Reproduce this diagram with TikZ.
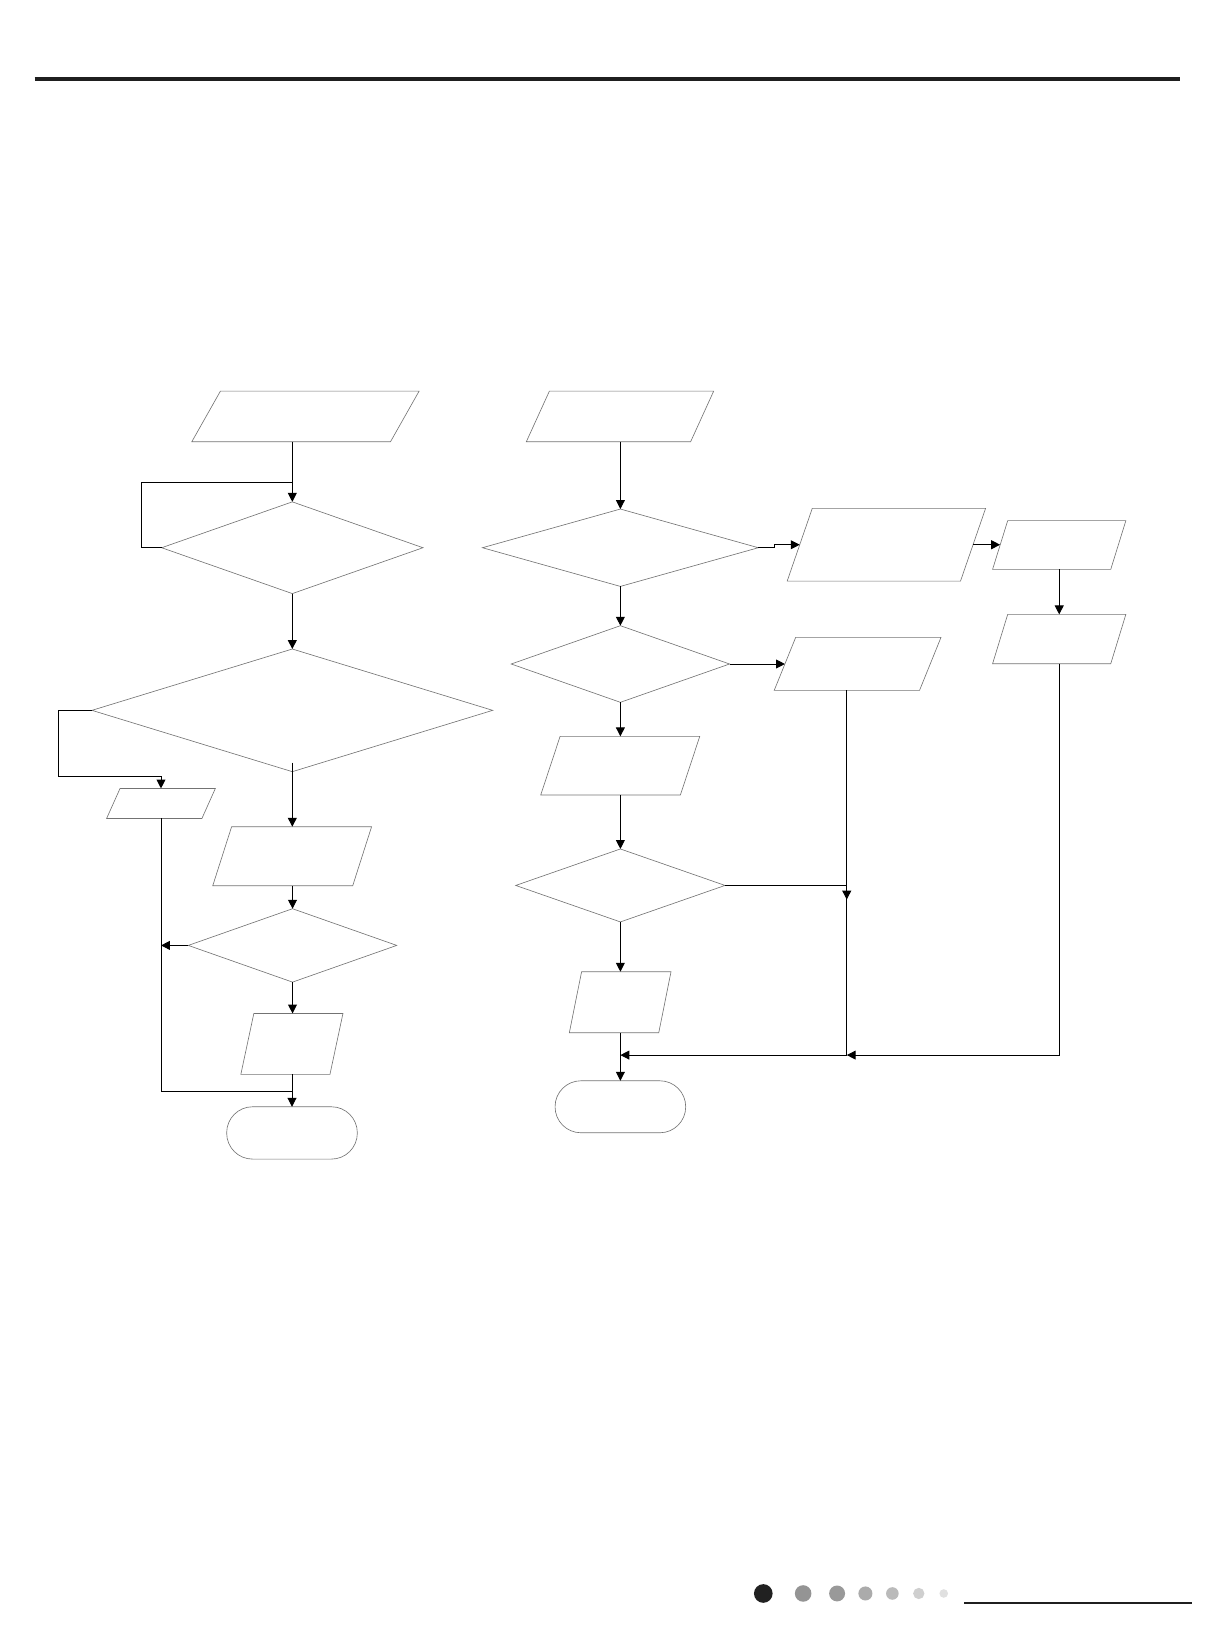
\documentclass[tikz,border=0pt]{standalone}
\usetikzlibrary{shapes.geometric,arrows.meta}
% \parabox{name}{cx}{cy}{edge length}{height}{half slant}
\newcommand\parabox[6]{%
  \node[pbox, minimum width=#4pt, minimum height=#5pt] (#1) at (#2,#3) {};
  \draw[shp] ([xshift=#6pt]#1.north west) -- ([xshift=#6pt]#1.north east)
    -- ([xshift=-#6pt]#1.south east) -- ([xshift=-#6pt]#1.south west) -- cycle;}
\begin{document}
\begin{tikzpicture}[x=1pt,y=-1pt,
  shp/.style={draw=black!55, line width=0.6pt},
  dec/.style={diamond, shp, inner sep=0pt, outer sep=0pt},
  pbox/.style={rectangle, inner sep=0pt, outer sep=0pt, draw=none},
  term/.style={rectangle, shp, rounded corners=24.7pt, inner sep=0pt, outer sep=0pt},
  conn/.style={draw=black, line width=0.9pt},
  arr/.style={conn, -{Triangle[length=8.5pt,width=8.5pt]}},
  dot/.style={circle, inner sep=0pt, outer sep=0pt, draw=none}]
\useasboundingbox (0,0) rectangle (1157,1568);

% header and footer rules
\coordinate (hl) at (33,75);
\coordinate (hr) at (1125,75);
\draw[line width=3.6pt, black!88] (hl) -- (hr);
\coordinate (fl) at (919.5,1528.7);
\coordinate (fr) at (1136.7,1528.7);
\draw[line width=2pt, black!88] (fl) -- (fr);

% footer dots
\node[dot, fill=black!87, minimum size=17.8pt] (d1) at (728,1519.8) {};
\node[dot, fill=black!42, minimum size=15.8pt] (d2) at (766,1519.8) {};
\node[dot, fill=black!40, minimum size=15.2pt] (d3) at (798.4,1519.8) {};
\node[dot, fill=black!33, minimum size=13.4pt] (d4) at (825.4,1519.8) {};
\node[dot, fill=black!27, minimum size=12pt] (d5) at (851.1,1519.8) {};
\node[dot, fill=black!19, minimum size=10.8pt] (d6) at (876.3,1519.8) {};
\node[dot, fill=black!12, minimum size=8.2pt] (d7) at (900.1,1519.8) {};

% ---------- left column ----------
\parabox{P1}{291.35}{397.15}{189.5}{48.3}{13.65}
\node[dec, minimum width=249.2pt, minimum height=87.5pt] (D1) at (278.8,522.4) {};
\node[dec, minimum width=382.2pt, minimum height=117pt] (D2) at (278.8,677.5) {};
\parabox{P2}{153.55}{766.3}{90.9}{28.6}{6.4}
\parabox{P3}{278.65}{816.65}{133.5}{56.3}{9}
\node[dec, minimum width=198.8pt, minimum height=70pt] (D3) at (279,901.7) {};
\parabox{P4}{278.4}{995.65}{85}{58.1}{6.2}
\node[term, minimum width=124.6pt, minimum height=49.9pt] (T1) at (278.5,1080.55) {};

\coordinate (L1) at (135.1,460);
\coordinate (L2) at (55.6,740.2);
\coordinate (J0) at (278.5,1040.7);

\draw[arr] (P1.south -| D1.north) -- (D1.north);
\draw[conn] (D1.west) -| (L1) -- (L1 -| D1.north);
\draw[arr] (D1.south) -- (D2.north);
\draw[arr] (D2.west) -| (L2) -| (P2.north);
\draw[arr] ([yshift=8.6pt]D2.south) -- (D2.south |- P3.north);
\draw[arr] (P3.south -| D3.north) -- (D3.north);
\draw[arr] (D3.west) -- (P2.south |- D3.west);
\draw[conn] (P2.south) |- (J0);
\draw[arr] (D3.south) -- (D3.south |- P4.north);
\draw[arr] (P4.south -| T1.north) -- (T1.north);

% ---------- right column ----------
\parabox{P5}{591.35}{397.15}{156.7}{48.3}{11}
\node[dec, minimum width=263.1pt, minimum height=73.8pt] (D4) at (591.7,522.4) {};
\parabox{P6}{845.4}{519.55}{165.3}{69.3}{11.95}
\parabox{P7}{1010.25}{519.8}{112.7}{46.4}{7.2}
\parabox{P8}{1010.25}{609.5}{112.7}{47}{7.2}
\node[dec, minimum width=208.2pt, minimum height=73.1pt] (D5) at (591.7,633.3) {};
\parabox{P9}{817.95}{633.2}{138.6}{50.6}{10.25}
\parabox{P10}{591.55}{730.3}{133.2}{56}{9.25}
\node[dec, minimum width=199.6pt, minimum height=69.6pt] (D6) at (591.7,844.5) {};
\parabox{P11}{591.5}{955.9}{85.3}{58.2}{5.85}
\node[term, minimum width=124.6pt, minimum height=49.6pt] (T2) at (591.7,1055.6) {};

\coordinate (K1) at (738.6,522.4);
\coordinate (J1) at (807.6,844.5);
\coordinate (J2) at (807.6,1006.3);
\coordinate (J4) at (591.7,1006.3);

\draw[arr] (P5.south -| D4.north) -- (D4.north);
\draw[arr] (D4.east) -- (K1) |- (P6.west);
\draw[arr] (P6.east) -- (P6.east -| P7.west);
\draw[arr] (P7.south) -- (P8.north);
\draw[arr] (D4.south) -- (D5.north);
\draw[arr] (D5.east) -- (D5.east -| P9.west);
\draw[arr] (D5.south) -- (D5.south |- P10.north);
\draw[arr] (P10.south -| D6.north) -- (D6.north);
\draw[arr] (D6.south) -- (D6.south |- P11.north);
\draw[arr] (P11.south -| T2.north) -- (T2.north);
\draw[arr] (D6.east) -- (J1) -- ++(0,13.5);
\draw[arr] (J2 |- P9.south) -- (J2) -- (J4);
\draw[arr] (P8.south) |- (J2);
\end{tikzpicture}
\end{document}
